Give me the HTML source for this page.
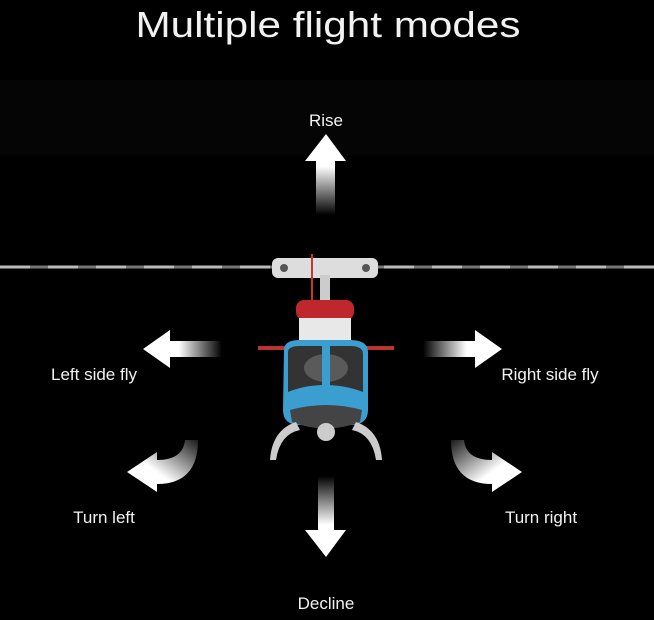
<!DOCTYPE html>
<html><head><meta charset="utf-8"><style>
html,body{margin:0;padding:0;background:#000;}
svg{display:block;}
text{font-family:"Liberation Sans",sans-serif;fill:#f2f2f2;}
</style></head><body>
<svg width="654" height="620" viewBox="0 0 654 620" xmlns="http://www.w3.org/2000/svg">
<defs>
<linearGradient id="gu" x1="0" y1="1" x2="0" y2="0"><stop offset="0" stop-color="#fff" stop-opacity="0"/><stop offset="0.6" stop-color="#fff"/></linearGradient>
<linearGradient id="gd" x1="0" y1="0" x2="0" y2="1"><stop offset="0" stop-color="#fff" stop-opacity="0"/><stop offset="0.6" stop-color="#fff"/></linearGradient>
<linearGradient id="gl" x1="1" y1="0" x2="0" y2="0"><stop offset="0" stop-color="#fff" stop-opacity="0"/><stop offset="0.55" stop-color="#fff"/></linearGradient>
<linearGradient id="gr" x1="0" y1="0" x2="1" y2="0"><stop offset="0" stop-color="#fff" stop-opacity="0"/><stop offset="0.55" stop-color="#fff"/></linearGradient>
<linearGradient id="tl" x1="1" y1="0" x2="0" y2="1"><stop offset="0" stop-color="#fff" stop-opacity="0.1"/><stop offset="0.6" stop-color="#fff"/></linearGradient>
<linearGradient id="tr" x1="0" y1="0" x2="1" y2="1"><stop offset="0" stop-color="#fff" stop-opacity="0.1"/><stop offset="0.6" stop-color="#fff"/></linearGradient>
</defs>
<rect width="654" height="620" fill="#000"/>
<rect x="0" y="80" width="654" height="75" fill="#050505"/>
<text x="328" y="37" font-size="36" text-anchor="middle" textLength="385" lengthAdjust="spacingAndGlyphs" fill="#e6e6e6">Multiple flight modes</text>

<path d="M326,134 L346,161 L335,161 L335,215 L316,215 L316,161 L305,161 Z" fill="url(#gu)"/>
<text x="326" y="126" font-size="17" text-anchor="middle">Rise</text>
<path d="M326,557 L346,530 L334,530 L334,476 L318,476 L318,530 L305,530 Z" fill="url(#gd)"/>
<text x="326" y="609" font-size="17" text-anchor="middle">Decline</text>
<path d="M143,349 L170,330 L170,341 L222,341 L222,357 L170,357 L170,368 Z" fill="url(#gl)"/>
<text x="94" y="380" font-size="17" text-anchor="middle">Left side fly</text>
<path d="M502,349 L475,330 L475,341 L423,341 L423,357 L475,357 L475,368 Z" fill="url(#gr)"/>
<text x="550" y="380" font-size="17" text-anchor="middle">Right side fly</text>
<path d="M127,472 L157,452 L157,460 Q183,460 185,440 L198,440 Q198,484 157,484 L157,492 Z" fill="url(#tl)"/>
<text x="104" y="523" font-size="17" text-anchor="middle">Turn left</text>
<path d="M522,472 L492,452 L492,460 Q466,460 464,440 L451,440 Q451,484 492,484 L492,492 Z" fill="url(#tr)"/>
<text x="541" y="523" font-size="17" text-anchor="middle">Turn right</text>

<g>
<line x1="0" y1="267" x2="654" y2="267" stroke="#bbb" stroke-width="3" stroke-dasharray="30,18"/>
<line x1="0" y1="267" x2="654" y2="267" stroke="#777" stroke-width="3" stroke-dasharray="18,30" stroke-dashoffset="-30"/>
<rect x="272" y="258" width="106" height="20" rx="6" fill="#ddd"/>
<circle cx="284" cy="268" r="4" fill="#555"/><circle cx="366" cy="268" r="4" fill="#555"/>
<line x1="312" y1="254" x2="312" y2="308" stroke="#c33" stroke-width="2"/>
<rect x="320" y="275" width="10" height="35" fill="#ccc"/>
<rect x="296" y="300" width="58" height="20" rx="8" fill="#c0272d"/>
<rect x="299" y="318" width="52" height="26" fill="#e8e8e8"/>
<rect x="258" y="346" width="136" height="4" fill="#b33"/>
<path d="M284,350 Q284,340 300,340 L350,340 Q368,340 368,352 L368,410 Q368,425 350,425 L300,425 Q283,425 283,410 Z" fill="#3a9fd0"/>
<path d="M288,352 Q288,346 300,346 L350,346 Q363,346 363,354 L363,392 Q345,385 325,385 Q305,385 288,392 Z" fill="#333"/>
<ellipse cx="326" cy="368" rx="22" ry="14" fill="#5a5a5a"/>
<rect x="322" y="344" width="8" height="58" fill="#3a9fd0"/>
<path d="M290,410 Q326,400 362,410 L360,422 Q326,435 292,422 Z" fill="#444"/>
<circle cx="326" cy="432" r="9" fill="#ccc"/>
<path d="M296,422 Q272,430 270,460 L276,460 Q280,434 300,430 Z" fill="#ccc"/>
<path d="M356,422 Q380,430 382,460 L376,460 Q372,434 352,430 Z" fill="#ccc"/>
</g>
</svg>
</body></html>
